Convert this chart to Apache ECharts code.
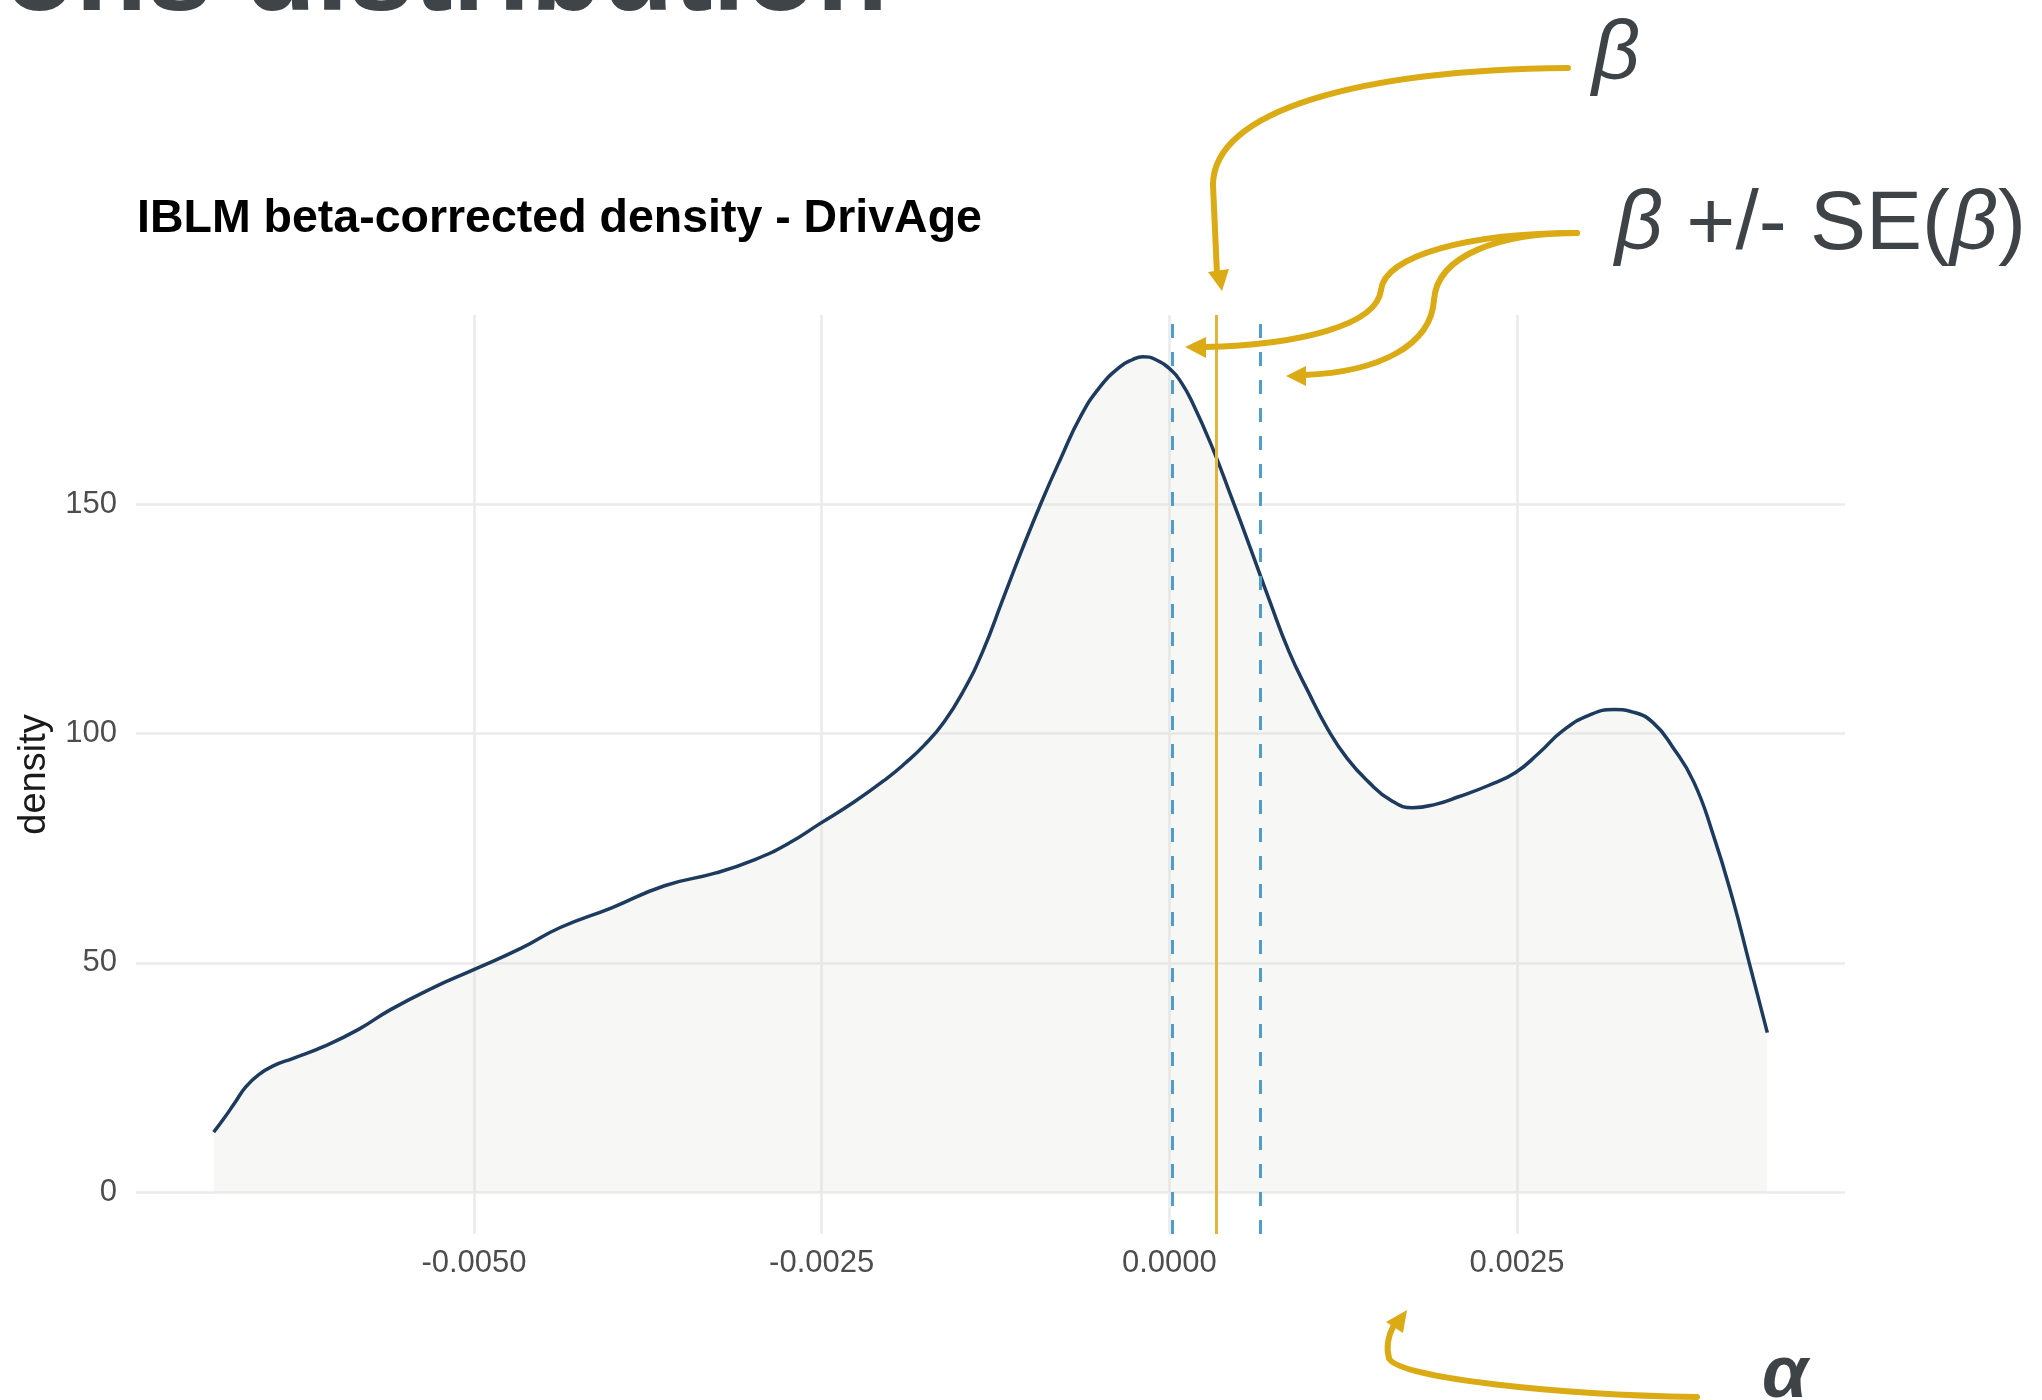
<!DOCTYPE html>
<html>
<head>
<meta charset="utf-8">
<style>
  html, body { margin: 0; padding: 0; background: #ffffff; }
  #chart { width: 2042px; height: 1400px; }
</style>
<script src="https://cdn.jsdelivr.net/npm/echarts@6/dist/echarts.min.js"></script>
</head>
<body>
<div id="chart"></div>
<script>
// Kernel density of the beta-corrected DrivAge coefficient
const densityX = [
  -0.006872, -0.006800, -0.006720, -0.006640, -0.006550, -0.006440, -0.006300,
  -0.006070, -0.005830, -0.005600, -0.005300, -0.005010, -0.004660, -0.004380,
  -0.004010, -0.003630, -0.003260, -0.002980, -0.002740, -0.002510, -0.002270,
  -0.002040, -0.001900, -0.001760, -0.001620, -0.001480, -0.001340, -0.001200,
  -0.001060, -0.000920, -0.000780, -0.000640, -0.000500, -0.000360, -0.000270,
  -0.000190, -0.000100, 0.000020, 0.000090, 0.000160, 0.000300, 0.000440,
  0.000580, 0.000720, 0.000860, 0.001000, 0.001140, 0.001280, 0.001430,
  0.001590, 0.001750, 0.001920, 0.002080, 0.002290, 0.002490, 0.002660,
  0.002830, 0.003020, 0.003200, 0.003340, 0.003480, 0.003620, 0.003770,
  0.003910, 0.004050, 0.004170, 0.004300
];
const densityY = [
  13.1, 16.0, 19.5, 23.0, 25.6, 27.6, 29.2,
  31.9, 35.5, 39.8, 44.5, 48.4, 53.2, 57.7,
  62.0, 66.8, 69.6, 72.5, 76.0, 80.4, 85.0,
  90.0, 93.5, 97.5, 102.5, 109.3, 118.0, 129.0,
  140.0, 150.4, 160.0, 169.0, 175.5, 179.8, 181.4,
  182.1, 181.5, 179.0, 176.3, 172.5, 163.0, 152.0,
  140.6, 129.0, 117.9, 109.0, 100.9, 94.5, 89.5,
  85.5, 83.8, 84.6, 86.2, 88.6, 91.5, 95.8,
  100.6, 104.0, 105.2, 104.6, 102.3, 97.0, 89.5,
  78.0, 64.0, 50.0, 34.8
];

// Coefficient estimate and its standard error
const betaValue = 0.000338;
const betaSE = 0.000314;

// Axis breaks
const xTicks = [-0.005, -0.0025, 0, 0.0025];
const yTicks = [0, 50, 100, 150];

const chart = echarts.init(document.getElementById('chart'), null, { renderer: 'canvas' });

// Continuous scales padded 5% beyond the data on each side
const xLo = Math.min(...densityX), xHi = Math.max(...densityX);
const xPad = (xHi - xLo) * 0.05;
const yHi = Math.max(...densityY);
const yPad = yHi * 0.05;

const points = densityX.map((x, i) => [x, densityY[i]]);

const gold = '#dbab16';
const ink = '#3e4348';
const font = 'Liberation Sans, Arial, sans-serif';

// Curved annotation arrow: cubic segments given as [x1,y1,cp1x,cp1y,cp2x,cp2y,x2,y2]
function curve(seg) {
  return {
    type: 'bezierCurve', z: 9, silent: true,
    shape: { x1: seg[0], y1: seg[1], cpx1: seg[2], cpy1: seg[3], cpx2: seg[4], cpy2: seg[5], x2: seg[6], y2: seg[7] },
    style: { fill: null, stroke: gold, lineWidth: 6, lineCap: 'round' }
  };
}
function straight(x1, y1, x2, y2) {
  return {
    type: 'line', z: 9, silent: true,
    shape: { x1, y1, x2, y2 },
    style: { stroke: gold, lineWidth: 6, lineCap: 'round' }
  };
}
function head(pts) {
  return { type: 'polygon', z: 9, silent: true, shape: { points: pts }, style: { fill: gold } };
}

const seLine = { color: '#4f9dc8', width: 3, type: [14, 14] };

const option = {
  animation: false,
  backgroundColor: '#ffffff',
  title: {
    text: 'IBLM beta-corrected density - DrivAge',
    left: 137,
    top: 196,
    padding: 0,
    textStyle: { fontFamily: font, fontSize: 46.5, fontWeight: 'bold', color: '#000000' }
  },
  grid: { left: 136, right: 197, top: 315, bottom: 166, containLabel: false },
  xAxis: {
    type: 'value',
    min: xLo - xPad,
    max: xHi + xPad,
    axisLine: { show: false },
    axisTick: { show: false, customValues: xTicks },
    axisLabel: {
      customValues: xTicks,
      formatter: v => v.toFixed(4),
      color: '#4d4d4d', fontSize: 31, fontFamily: font, margin: 14
    },
    splitLine: { show: true, lineStyle: { color: '#ebebeb', width: 2.6 } }
  },
  yAxis: {
    type: 'value',
    min: -yPad,
    max: yHi + yPad,
    name: 'density',
    nameLocation: 'middle',
    nameRotate: 90,
    nameGap: 82,
    nameTextStyle: { fontFamily: font, fontSize: 38, color: '#1a1a1a' },
    axisLine: { show: false },
    axisTick: { show: false, customValues: yTicks },
    axisLabel: {
      customValues: yTicks,
      formatter: v => String(v),
      color: '#4d4d4d', fontSize: 31, fontFamily: font, margin: 19
    },
    splitLine: { show: true, lineStyle: { color: '#ebebeb', width: 2.6 } }
  },
  series: [
    {
      name: 'density',
      type: 'line',
      data: points,
      smooth: 0.5,
      showSymbol: false,
      silent: true,
      lineStyle: { color: '#1c3b5e', width: 3.5 },
      areaStyle: { color: 'rgba(220,220,210,0.33)', origin: 0 },
      z: 2,
      markLine: {
        silent: true,
        precision: 10,
        symbol: ['none', 'none'],
        label: { show: false },
        animation: false,
        z: 4,
        data: [
          { xAxis: betaValue - betaSE, lineStyle: seLine },
          { xAxis: betaValue + betaSE, lineStyle: seLine },
          { xAxis: betaValue, lineStyle: { color: '#e2b43a', width: 3, type: 'solid' } }
        ]
      }
    }
  ],
  graphic: [
    // slide heading, running off the top edge
    {
      type: 'text', x: 4, y: -22, z: 10, silent: true,
      style: { text: 'ons distribution', font: 'bold 117px ' + font, fill: '#3f4448', verticalAlign: 'middle' }
    },
    // annotation labels
    {
      type: 'text', x: 1592, y: 56, z: 10, silent: true,
      style: { text: 'β', font: 'italic 84px ' + font, fill: ink, verticalAlign: 'middle' }
    },
    {
      type: 'text', x: 1615, y: 226, z: 10, silent: true,
      style: {
        text: '{i|β} +/- SE({i|β})',
        font: '84px ' + font, fill: ink, verticalAlign: 'middle',
        rich: { i: { fontStyle: 'italic', fontSize: 84, fontFamily: font, fill: ink, color: ink } }
      }
    },
    {
      type: 'text', x: 1762, y: 1377, z: 10, silent: true,
      style: { text: 'α', font: 'italic bold 74px ' + font, fill: ink, verticalAlign: 'middle' }
    },
    // arrow to the estimate
    curve([1568, 68, 1360, 70, 1213, 110, 1213, 185]),
    straight(1213, 185, 1217, 274),
    head([[1222, 291], [1208, 272], [1229, 269]]),
    // arrows to the lower and upper standard-error bounds
    curve([1577, 233, 1470, 233, 1385, 255, 1381, 290]),
    curve([1381, 290, 1377, 325, 1300, 345, 1204, 347]),
    head([[1185, 347], [1206, 337], [1206, 358]]),
    curve([1577, 233, 1500, 233, 1437, 255, 1434, 300]),
    curve([1434, 300, 1431, 345, 1380, 372, 1304, 375]),
    head([[1286, 376], [1306, 366], [1306, 386]]),
    // arrow to the axis
    curve([1697, 1397, 1560, 1395, 1395, 1378, 1389, 1358]),
    curve([1389, 1358, 1386, 1348, 1388, 1336, 1393, 1327]),
    head([[1407, 1310], [1386, 1322], [1403, 1333]])
  ]
};

chart.setOption(option);
</script>
</body>
</html>
